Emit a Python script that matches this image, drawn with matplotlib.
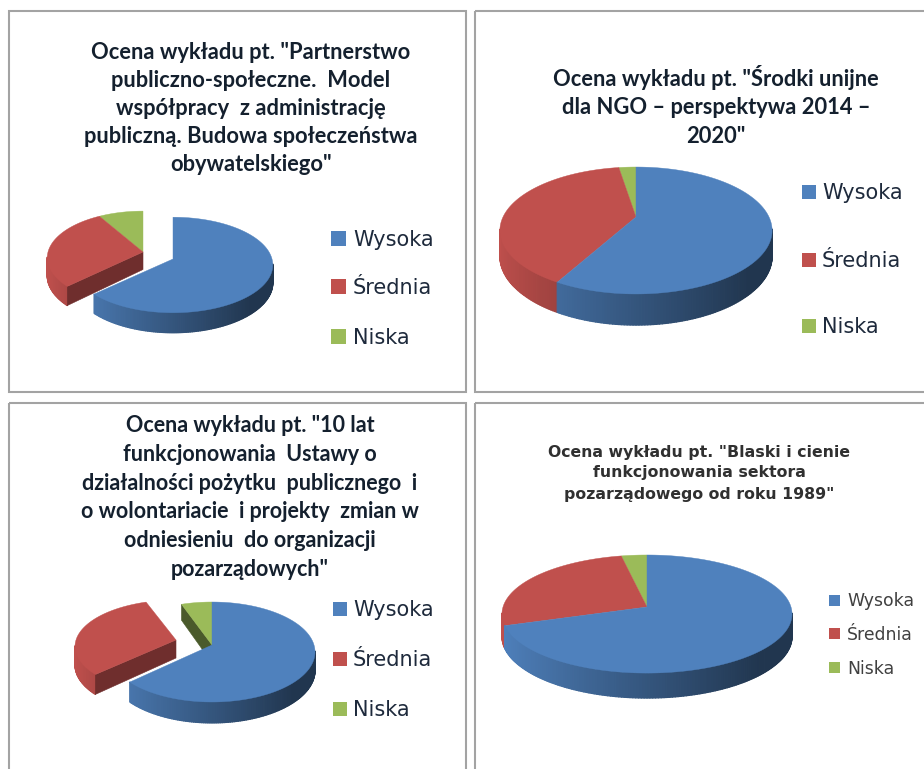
import numpy as np
import matplotlib
matplotlib.use("Agg")
import matplotlib.pyplot as plt
from matplotlib.patches import Rectangle
from matplotlib.path import Path
from matplotlib.transforms import Transform, Affine2D
from matplotlib.colors import to_rgb

categories = ["Wysoka", "Średnia", "Niska"]
values_a = [63.0, 28.5, 8.5]
values_b = [58.0, 39.5, 2.5]
values_c = [63.0, 31.5, 5.5]
values_d = [70.0, 26.8, 3.2]

title_a = 'Ocena wykładu pt. "Partnerstwo\npubliczno-społeczne.  Model\nwspółpracy  z administrację\npubliczną. Budowa społeczeństwa\nobywatelskiego"'
title_b = 'Ocena wykładu pt. "Środki unijne\ndla NGO – perspektywa 2014 –\n2020"'
title_c = 'Ocena wykładu pt. "10 lat\nfunkcjonowania  Ustawy o\ndziałalności pożytku  publicznego  i\no wolontariacie  i projekty  zmian w\nodniesieniu  do organizacji\npozarządowych"'
title_d = 'Ocena wykładu pt. "Blaski i cienie\nfunkcjonowania sektora\npozarządowego od roku 1989"'

COLORS = ["#4f81bd", "#c0504d", "#9bbb59"]
W, H = 924, 769


class Persp(Transform):
    input_dims = output_dims = 2
    is_separable = False
    has_inverse = False

    def __init__(self, cx, cy, rx, ry, k):
        super().__init__()
        self.g = (cx, cy, rx, ry, k)

    def transform_non_affine(self, v):
        cx, cy, rx, ry, k = self.g
        v = np.asarray(v, float)
        w = 1 + k * v[:, 1]
        return np.column_stack([cx + rx * v[:, 0] / w, cy - ry * v[:, 1] / w])

    def transform_path_non_affine(self, path):
        # flatten the wedge's curves first so the projected outline is exact
        poly = path.transformed(Affine2D().scale(2000)).to_polygons(closed_only=False)[0] / 2000
        return Path(self.transform_non_affine(poly))


def shade(c, f):
    return tuple(min(1, x * f) for x in to_rgb(c))


def pie3d(ax, values, geoms, k, depth, cuts):
    wedges, _ = ax.pie(values, colors=COLORS, startangle=90, counterclock=False,
                       wedgeprops=dict(linewidth=0.3))
    edges = np.concatenate([[0], np.cumsum(values)]) / np.sum(values) * 360
    for i, w in enumerate(wedges):
        cx, cy, rx, ry = geoms[i]
        tr = Persp(cx, cy, rx, ry, k)
        base_z = 2 + 2 * (len(values) - i)
        w.set_transform(tr + ax.transData)
        w.set_edgecolor(COLORS[i])
        w.set_zorder(base_z + 1)
        # rim strips, overlapping so that no seams show between them
        angs = np.arange(edges[i], edges[i + 1] + 1.0, 1.0)
        angs = np.clip(angs, edges[i], edges[i + 1])
        for a0, a1 in zip(angs[:-1], angs[1:]):
            t = np.radians([a0, a1])
            x, y = np.sin(t), np.cos(t)
            if y.mean() > -k + 0.02:
                continue
            top = tr.transform_non_affine(np.column_stack([x, y]))
            d = depth / (1 + k * y)
            poly = np.vstack([top, (top + np.column_stack([[0, 0], d]))[::-1]])
            f = max(0.42, 1 - 0.68 * (x.mean() + 1) / 2)
            col = shade(COLORS[i], f)
            ax.fill(poly[:, 0], poly[:, 1], facecolor=col, edgecolor=col, lw=0.9,
                    joinstyle="round", zorder=base_z)
        for idx, which in cuts:
            if idx != i:
                continue
            a = np.radians(edges[i] if which == "start" else edges[i + 1])
            rim = tr.transform_non_affine(np.array([[np.sin(a), np.cos(a)], [0, 0]]))
            d = depth / (1 + k * np.cos(a))
            poly = np.vstack([rim, [rim[1, 0], rim[1, 1] + depth], [rim[0, 0], rim[0, 1] + d]])
            f = 0.58 if i == 1 else 0.48
            ax.fill(poly[:, 0], poly[:, 1], color=shade(COLORS[i], f), lw=0.4, zorder=base_z + 0.5)


fig = plt.figure(figsize=(W / 100, H / 100), dpi=100, facecolor="white")
ax = fig.add_axes([0, 0, 1, 1])

# panel frames
frames = [(9, 11, 457, 381), (475, 11, 460, 381), (9, 403, 457, 380), (475, 403, 460, 380)]
for x, y, w, h in frames:
    ax.add_patch(Rectangle((x, y), w, h, fill=False, ec="#a3a3a3", lw=1.5, zorder=1))

pie3d(ax, values_a, [(173, 259, 99, 47), (143, 252, 95, 46), (143, 252, 95, 46)], 0.125, 17.5, [(1, "start")])
pie3d(ax, values_b, [(636, 217, 133, 60.6)] * 3, 0.2126, 24.5, [])
pie3d(ax, values_c, [(212, 645, 102, 49), (176, 640, 100, 45.6), (212, 645, 102, 49)], 0.14, 18, [(1, "start"), (2, "start")])
pie3d(ax, values_d, [(647, 607, 144, 58.2)] * 3, 0.119, 22, [])

ax.set_aspect("auto")
ax.set_xlim(0, W)
ax.set_ylim(H, 0)
ax.axis("off")

# titles
title_kw = dict(ha="center", va="center", multialignment="center", color="#14202e", zorder=20)
ax.text(251, 108.5, title_a, family="Lato", weight="bold", fontsize=15.75, linespacing=1.42, **title_kw)
ax.text(716, 106, title_b, family="Lato", weight="bold", fontsize=15.75, linespacing=1.42, **title_kw)
ax.text(250, 497.5, title_c, family="Lato", weight="bold", fontsize=15.5, linespacing=1.46, **title_kw)
ax.text(699, 473, title_d, family="DejaVu Sans", weight="bold", fontsize=11.3, linespacing=1.5,
        ha="center", va="center", multialignment="center", color="#303030", zorder=20)

# legends
legends = [
    (331, [231, 279, 329], 15, 353, 15, "#1e2a3c"),
    (802, [185, 253, 319], 14, 822, 15, "#1e2a3c"),
    (333, [602, 652, 702], 14, 353, 15, "#1e2a3c"),
    (829, [595, 628, 662], 11, 847, 12.4, "#404040"),
]
for x, ys, s, tx, fs, col in legends:
    for cat, c, y in zip(categories, COLORS, ys):
        ax.add_patch(Rectangle((x, y), s, s, fc=c, ec="none", zorder=20))
        ax.text(tx, y + s / 2 + 1, cat, family="DejaVu Sans", fontsize=fs, color=col, va="center", zorder=20)

fig.savefig("out.png", dpi=100, facecolor="white")
